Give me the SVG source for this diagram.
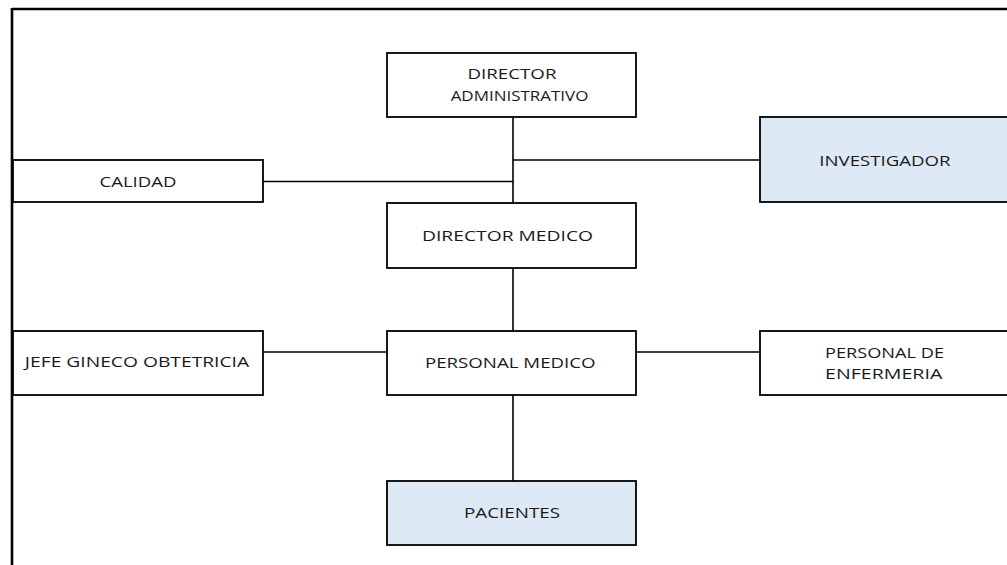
<svg xmlns="http://www.w3.org/2000/svg" width="1007" height="565" viewBox="0 0 1007 565">
<style>
.box{fill:#ffffff;stroke:#000000;stroke-width:1.8}
.hl{fill:#dde9f5;stroke:#000000;stroke-width:1.8}
.t{font-family:"Open Sans","Liberation Sans",sans-serif;font-size:14.5px;fill:#1a1a1a}
.c{stroke:#000000;stroke-width:1.6;fill:none}
.f{stroke:#000000;stroke-width:2.6;fill:none}
</style>
<rect width="1007" height="565" fill="#ffffff"/>
<g id="frame">
<line class="f" x1="12" y1="9" x2="1007" y2="9"/>
<line class="f" x1="12" y1="8" x2="12" y2="565"/>
</g>
<g id="connectors">
<line class="c" x1="513" y1="117" x2="513" y2="203"/>
<line class="c" x1="513" y1="160" x2="760" y2="160"/>
<line class="c" x1="263" y1="181.5" x2="513" y2="181.5"/>
<line class="c" x1="513" y1="268" x2="513" y2="331"/>
<line class="c" x1="263" y1="352" x2="387" y2="352"/>
<line class="c" x1="636" y1="352" x2="760" y2="352"/>
<line class="c" x1="513" y1="395" x2="513" y2="481"/>
</g>
<g id="director-administrativo">
<rect class="box" x="387" y="53" width="249" height="64"/>
<text class="t" x="512" y="79.3" text-anchor="middle" textLength="89" lengthAdjust="spacingAndGlyphs">DIRECTOR</text>
<text class="t" x="519.5" y="101" text-anchor="middle" textLength="137.7" lengthAdjust="spacingAndGlyphs">ADMINISTRATIVO</text>
</g>
<g id="calidad">
<rect class="box" x="13" y="160" width="250" height="42"/>
<text class="t" x="138" y="186.7" text-anchor="middle" textLength="77" lengthAdjust="spacingAndGlyphs">CALIDAD</text>
</g>
<g id="investigador">
<rect class="hl" x="760" y="117" width="248" height="85"/>
<text class="t" x="885" y="165.7" text-anchor="middle" textLength="131.3" lengthAdjust="spacingAndGlyphs">INVESTIGADOR</text>
</g>
<g id="director-medico">
<rect class="box" x="387" y="203" width="249" height="65"/>
<text class="t" x="507.5" y="240.7" text-anchor="middle" textLength="171" lengthAdjust="spacingAndGlyphs">DIRECTOR MEDICO</text>
</g>
<g id="jefe-gineco">
<rect class="box" x="13" y="331" width="250" height="64"/>
<text class="t" x="137" y="367.3" text-anchor="middle" textLength="224.3" lengthAdjust="spacingAndGlyphs">JEFE GINECO OBTETRICIA</text>
</g>
<g id="personal-medico">
<rect class="box" x="387" y="331" width="249" height="64"/>
<text class="t" x="510.3" y="367.7" text-anchor="middle" textLength="170.7" lengthAdjust="spacingAndGlyphs">PERSONAL MEDICO</text>
</g>
<g id="personal-enfermeria">
<rect class="box" x="760" y="331" width="248" height="64"/>
<text class="t" x="884.5" y="357.7" text-anchor="middle" textLength="119" lengthAdjust="spacingAndGlyphs">PERSONAL DE</text>
<text class="t" x="883.7" y="379" text-anchor="middle" textLength="117.3" lengthAdjust="spacingAndGlyphs">ENFERMERIA</text>
</g>
<g id="pacientes">
<rect class="hl" x="387" y="481" width="249" height="64"/>
<text class="t" x="512" y="517.7" text-anchor="middle" textLength="96" lengthAdjust="spacingAndGlyphs">PACIENTES</text>
</g>
</svg>
